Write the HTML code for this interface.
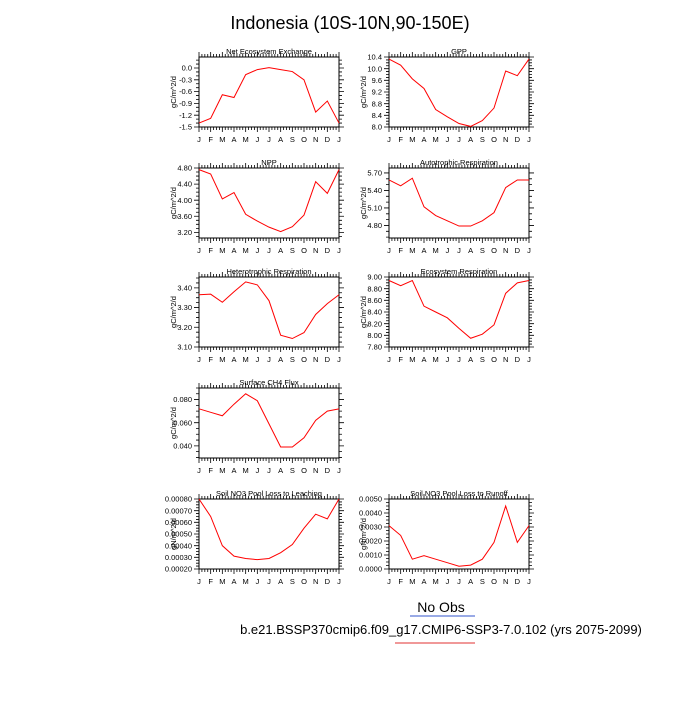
<!DOCTYPE html>
<html><head><meta charset="utf-8"><style>
body{margin:0;background:#fff;font-family:"Liberation Sans",sans-serif;}
svg text{font-family:"Liberation Sans",sans-serif;}
</style></head><body>
<svg id="c" width="700" height="700" xmlns="http://www.w3.org/2000/svg">
<text x="350" y="29" font-size="18" text-anchor="middle">Indonesia (10S-10N,90-150E)</text>
<text x="441" y="612" font-size="14" text-anchor="middle">No Obs</text>
<line x1="410" y1="616" x2="475" y2="616" stroke="#3355cc" stroke-width="1"/>
<text x="441" y="634" font-size="13" text-anchor="middle">b.e21.BSSP370cmip6.f09_g17.CMIP6-SSP3-7.0.102 (yrs 2075-2099)</text>
<line x1="395" y1="643" x2="475" y2="643" stroke="#e03030" stroke-width="1"/>
</svg>
<script>
const months = ["J","F","M","A","M","J","J","A","S","O","N","D","J"];
const titles = ["Net Ecosystem Exchange","GPP","NPP","Autotrophic Respiration","Heterotrophic Respiration","Ecosystem Respiration","Surface CH4 Flux","Soil NO3 Pool Loss to Leaching","Soil NO3 Pool Loss to Runoff"];
const units = ["gC/m^2/d","gC/m^2/d","gC/m^2/d","gC/m^2/d","gC/m^2/d","gC/m^2/d","gC/m^2/d","gN/m^2/d","gN/m^2/d"];
const neeVals = [-1.4,-1.28,-0.68,-0.75,-0.17,-0.04,0.01,-0.04,-0.09,-0.3,-1.12,-0.84,-1.4];
const gppVals = [10.33,10.12,9.65,9.32,8.6,8.35,8.12,8.02,8.22,8.65,9.92,9.76,10.33];
const nppVals = [4.76,4.65,4.03,4.19,3.65,3.48,3.33,3.22,3.34,3.63,4.46,4.17,4.76];
const arVals = [5.58,5.48,5.61,5.12,4.97,4.88,4.79,4.79,4.88,5.02,5.45,5.58,5.58];
const hrVals = [3.365,3.368,3.327,3.38,3.43,3.415,3.335,3.16,3.143,3.173,3.265,3.32,3.365];
const erVals = [8.94,8.85,8.94,8.5,8.4,8.3,8.12,7.95,8.02,8.18,8.72,8.9,8.94];
const ch4Vals = [0.072,0.069,0.066,0.076,0.085,0.079,0.059,0.039,0.039,0.047,0.062,0.070,0.072];
const leachVals = [0.0008,0.00065,0.0004,0.00031,0.00029,0.00028,0.00029,0.00034,0.00041,0.00055,0.00067,0.00063,0.0008];
const runoffVals = [0.0031,0.0024,0.0007,0.00095,0.0007,0.00045,0.0002,0.00028,0.0007,0.0019,0.0045,0.0019,0.0031];
const neeTicks = ["-1.5","-1.2","-0.9","-0.6","-0.3","0.0"];
const gppTicks = ["8.0","8.4","8.8","9.2","9.6","10.0","10.4"];
const nppTicks = ["3.20","3.60","4.00","4.40","4.80"];
const arTicks = ["4.80","5.10","5.40","5.70"];
const hrTicks = ["3.10","3.20","3.30","3.40"];
const erTicks = ["7.80","8.00","8.20","8.40","8.60","8.80","9.00"];
const ch4Ticks = ["0.040","0.060","0.080"];
const leachTicks = ["0.00020","0.00030","0.00040","0.00050","0.00060","0.00070","0.00080"];
const runoffTicks = ["0.0000","0.0010","0.0020","0.0030","0.0040","0.0050"];
const panels = [
 {v:neeVals,t:neeTicks,min:-1.5,max:0.28,minor:0.1,x:199,y:57,n:"nee"},
 {v:gppVals,t:gppTicks,min:8.0,max:10.4,minor:0.1,x:389,y:57,n:"gpp"},
 {v:nppVals,t:nppTicks,min:3.06,max:4.8,minor:0.1,x:199,y:168,n:"npp"},
 {v:arVals,t:arTicks,min:4.585,max:5.785,minor:0.1,x:389,y:168,n:"ar"},
 {v:hrVals,t:hrTicks,min:3.10,max:3.455,minor:0.025,x:199,y:277,n:"hr"},
 {v:erVals,t:erTicks,min:7.8,max:9.0,minor:0.05,x:389,y:277,n:"er"},
 {v:ch4Vals,t:ch4Ticks,min:0.0295,max:0.09,minor:0.005,x:199,y:388,n:"ch4"},
 {v:leachVals,t:leachTicks,min:0.0002,max:0.0008,minor:0.000025,x:199,y:499,n:"leach"},
 {v:runoffVals,t:runoffTicks,min:0,max:0.005,minor:0.00025,x:389,y:499,n:"runoff"}
];
const W=140,H=70,NS="http://www.w3.org/2000/svg",svg=document.getElementById("c");
function mk(tag,attrs,parent){const e=document.createElementNS(NS,tag);for(const k in attrs)e.setAttribute(k,attrs[k]);parent.appendChild(e);return e;}
panels.forEach((p,pi)=>{
 const idx=[0,1,2,3,4,5,6,7,8][pi];
 const g=mk("g",{},svg);
 
 
 const xs=i=>p.x+i*W/12, ys=v=>p.y+H-(v-p.min)/(p.max-p.min)*H;
 const tt=mk("text",{x:p.x+W/2,y:p.y-3,"font-size":7.5,"text-anchor":"middle"},g);tt.textContent=titles[idx];
 
 
 const yl=mk("text",{x:0,y:0,"font-size":7.5,"text-anchor":"middle",transform:`translate(${p.x-23},${p.y+H/2}) rotate(-90)`},g);yl.textContent=units[idx];
 
 
 let d="";
 for(let i=0;i<13;i++){const x=xs(i);d+=`M${x} ${p.y+H}v5M${x} ${p.y}v-5`;
  if(i<12){for(let k=1;k<4;k++){const xm=x+k*W/48;d+=`M${xm} ${p.y+H}v3M${xm} ${p.y}v-3`;}}
  const lt=mk("text",{x:x,y:p.y+H+15,"font-size":7.5,"text-anchor":"middle"},g);lt.textContent=months[i];
  
  }
 const nm=Math.round((p.max-p.min)/p.minor);
 for(let k=Math.ceil(p.min/p.minor-1e-6);k*p.minor<=p.max+1e-9;k++){const y=ys(k*p.minor);d+=`M${p.x} ${y}h-3M${p.x+W} ${y}h3`;}
 p.t.forEach(s=>{const y=ys(parseFloat(s));d+=`M${p.x} ${y}h-5M${p.x+W} ${y}h5`;
  const lt=mk("text",{x:p.x-7,y:y+2.6,"font-size":7.5,"text-anchor":"end"},g);lt.textContent=s;
  
  });
 const tk=mk("path",{d:d,stroke:"#000","stroke-width":0.8,fill:"none"},g);
 
 
 const fr=mk("rect",{x:p.x,y:p.y,width:W,height:H,fill:"none",stroke:"#000","stroke-width":1},g);
 
 
 const pts=p.v.map((v,i)=>xs(i)+","+ys(v)).join(" ");
 const ln=mk("polyline",{points:pts,fill:"none",stroke:"#ff0000","stroke-width":1},g);
 
 
});
</script>
</body></html>
